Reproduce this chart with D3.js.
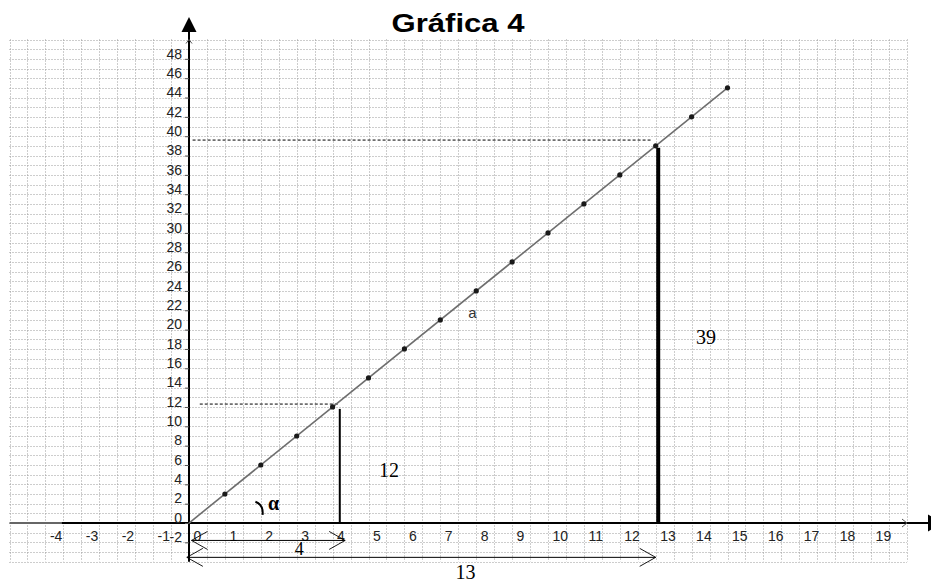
<!DOCTYPE html>
<html>
<head>
<meta charset="utf-8">
<script src="https://cdn.jsdelivr.net/npm/d3@7"></script>
<style>
  body { margin: 0; background: #fff; }
  svg { display: block; font-family: Arial, "Liberation Sans", sans-serif; }
</style>
</head>
<body>
<svg id="chart"></svg>
<script>
// values
const xDomain = [-5, 20];
const yDomain = [-4, 50];
const xTicks = [-4, -3, -2, -1, 0, 1, 2, 3, 4, 5, 6, 7, 8, 9, 10, 11, 12, 13, 14, 15, 16, 17, 18, 19];
const yTicks = [-2, 0, 2, 4, 6, 8, 10, 12, 14, 16, 18, 20, 22, 24, 26, 28, 30, 32, 34, 36, 38, 40, 42, 44, 46, 48];
const pointX = [1, 2, 3, 4, 5, 6, 7, 8, 9, 10, 11, 12, 13, 14, 15];
const pointY = [3, 6, 9, 12, 15, 18, 21, 24, 27, 30, 33, 36, 39, 42, 45];
// dashed guides and drop lines
const guideY = [12.3, 39.6];
const guideX0 = [0.3, 0.1];
const guideX1 = [4.2, 12.9];
const dropX = [4.2, 13.07];
const dropTop = [11.8, 38.8];
// dimension arrows under the axis
const dimY = [-1.8, -3.55];
const dimFrom = [0.07, -0.06];
const dimTo = [4.35, 13.0];
const labels = ["4", "13"];

let width = 931, height = 582;
let svg = d3.select('#chart').attr('width', width).attr('height', height);

let x = d3.scaleLinear().domain(xDomain).range([9.5, 907]);
let y = d3.scaleLinear().domain(yDomain).range([561.7, 39.5]);

// grid
let grid = svg.append('g').attr('class', 'grid')
    .attr('stroke', '#9a9a9a').attr('stroke-dasharray', '1,2').attr('stroke-width', 1);
grid.selectAll('.vg')
    .data(d3.range(xDomain[0], xDomain[1] + 0.25, 0.5))
    .enter().append('line')
    .attr('x1', d => Math.round(x(d)) + 0.5).attr('x2', d => Math.round(x(d)) + 0.5)
    .attr('y1', y(yDomain[1])).attr('y2', y(yDomain[0]));
grid.selectAll('.hg')
    .data(d3.range(yDomain[0], yDomain[1] + 0.5, 1))
    .enter().append('line')
    .attr('y1', d => Math.round(y(d)) + 0.5).attr('y2', d => Math.round(y(d)) + 0.5)
    .attr('x1', x(xDomain[0])).attr('x2', x(xDomain[1]));

// title
svg.append('text')
    .attr('x', 458).attr('y', 32)
    .attr('text-anchor', 'middle')
    .attr('font-weight', 'bold').attr('font-size', 26)
    .attr('textLength', 133).attr('lengthAdjust', 'spacingAndGlyphs')
    .text('Gráfica 4');

// axis lines
svg.append('line')
    .attr('x1', x(xDomain[0])).attr('x2', 930)
    .attr('y1', y(0)).attr('y2', y(0))
    .attr('stroke', '#666').attr('stroke-width', 2);
svg.append('line')
    .attr('x1', x(-3.54)).attr('x2', 930)
    .attr('y1', y(0)).attr('y2', y(0))
    .attr('stroke', '#000').attr('stroke-width', 2);
svg.append('line')
    .attr('x1', x(0)).attr('x2', x(0))
    .attr('y1', 30).attr('y2', y(yDomain[0]))
    .attr('stroke', '#000').attr('stroke-width', 2);

// arrow heads of axes
svg.append('path')
    .attr('d', `M${x(0)},17 L${x(0) - 7.5},32 L${x(0) + 7.5},32 Z`)
    .attr('fill', '#000');
svg.append('path')
    .attr('d', `M${x(0) - 3},${y(yDomain[1]) + 4} L${x(0)},${y(yDomain[1])} L${x(0) + 3},${y(yDomain[1]) + 4}`)
    .attr('fill', 'none').attr('stroke', '#555');
svg.append('path')
    .attr('d', `M928,${y(0) - 8.5} L943,${y(0)} L928,${y(0) + 8.5} Z`)
    .attr('fill', '#000');
svg.append('path')
    .attr('d', `M${x(xDomain[1]) - 5},${y(0) - 4} L${x(xDomain[1])},${y(0)} L${x(xDomain[1]) - 5},${y(0) + 4}`)
    .attr('fill', 'none').attr('stroke', '#555');

// y axis ticks and labels
let yAxis = d3.axisLeft(y).tickValues(yTicks).tickSize(4).tickPadding(3).tickFormat(d => String(d));
let gy = svg.append('g')
    .attr('class', 'y axis')
    .attr('transform', 'translate(' + x(0) + ',0)')
    .call(yAxis);
gy.select('.domain').remove();
gy.selectAll('text').attr('dy', '-0.05em').attr('font-size', 14).attr('fill', '#222').attr('font-family', 'Arial, "Liberation Sans", sans-serif');
gy.selectAll('line').attr('stroke', '#555');

// x axis labels (to the right of ticks)
let xAxis = d3.axisBottom(x).tickValues(xTicks).tickSize(0).tickPadding(0).tickFormat(d => String(d));
let gx = svg.append('g')
    .attr('class', 'x axis')
    .attr('transform', 'translate(0,' + y(0) + ')')
    .call(xAxis);
gx.select('.domain').remove();
gx.selectAll('text')
    .attr('text-anchor', 'start').attr('x', 4).attr('y', 18).attr('dy', 0)
    .attr('font-size', 14).attr('fill', '#222').attr('font-family', 'Arial, "Liberation Sans", sans-serif');

// dashed guides
svg.selectAll('.guide')
    .data(guideY)
    .enter().append('line')
    .attr('class', 'guide')
    .attr('x1', (d, i) => x(guideX0[i])).attr('x2', (d, i) => x(guideX1[i]))
    .attr('y1', d => y(d)).attr('y2', d => y(d))
    .attr('stroke', '#000').attr('stroke-dasharray', '3,2').attr('stroke-width', 1);

// drop lines
svg.selectAll('.drop')
    .data(dropX)
    .enter().append('line')
    .attr('class', 'drop')
    .attr('x1', d => x(d)).attr('x2', d => x(d))
    .attr('y1', (d, i) => y(dropTop[i])).attr('y2', y(0))
    .attr('stroke', '#000')
    .attr('stroke-width', (d, i) => i == 0 ? 2 : 4);

// the line a
svg.append('line')
    .attr('x1', x(0)).attr('y1', y(0))
    .attr('x2', x(pointX[pointX.length - 1])).attr('y2', y(pointY[pointY.length - 1]))
    .attr('stroke', '#6e6e6e').attr('stroke-width', 1.6);
svg.selectAll('.pt')
    .data(pointX)
    .enter().append('circle')
    .attr('class', 'pt')
    .attr('cx', d => x(d)).attr('cy', (d, i) => y(pointY[i]))
    .attr('r', 2.6)
    .attr('fill', '#1a1a1a');

svg.append('text')
    .attr('x', x(7.78)).attr('y', y(21.2))
    .attr('font-size', 15).attr('fill', '#333')
    .text('a');

// angle mark
let ax0 = x(1.85), ay0 = y(2.2), ax1 = x(2.05), ay1 = y(0.85);
svg.append('path')
    .attr('d', `M${ax0},${ay0} Q${ax1 + 1},${ay0 + 3} ${ax1},${ay1}`)
    .attr('fill', 'none').attr('stroke', '#000').attr('stroke-width', 2);
svg.append('text')
    .attr('x', x(2.2)).attr('y', y(1.3))
    .attr('font-family', '"Liberation Serif", "Times New Roman", serif')
    .attr('font-weight', 'bold').attr('font-size', 20)
    .text('α');

// dimension arrows
let dims = svg.selectAll('.dim')
    .data(dimY)
    .enter().append('g')
    .attr('class', 'dim');
dims.append('line')
    .attr('x1', (d, i) => x(dimFrom[i])).attr('x2', (d, i) => x(dimTo[i]))
    .attr('y1', d => y(d)).attr('y2', d => y(d))
    .attr('stroke', '#000');
dims.append('path')
    .attr('d', (d, i) => {
        let a = x(dimFrom[i]), b = x(dimTo[i]), yy = y(d);
        return `M${a + 16},${yy - 9} L${a},${yy} L${a + 16},${yy + 9} M${b - 16},${yy - 9} L${b},${yy} L${b - 16},${yy + 9}`;
    })
    .attr('fill', 'none').attr('stroke', '#000').attr('stroke-width', 0.9);

// measure labels
let serif = '"Liberation Serif", "Times New Roman", serif';
svg.append('text').attr('x', x(3.07)).attr('y', y(-3.35))
    .attr('text-anchor', 'middle').attr('font-family', serif).attr('font-size', 18).text(labels[0]);
svg.append('text').attr('x', x(7.7)).attr('y', y(-5.8))
    .attr('text-anchor', 'middle').attr('font-family', serif).attr('font-size', 20).text(labels[1]);
svg.append('text').attr('x', x(5.57)).attr('y', y(4.8))
    .attr('text-anchor', 'middle').attr('font-family', serif).attr('font-size', 20).text('12');
svg.append('text').attr('x', x(14.4)).attr('y', y(18.5))
    .attr('text-anchor', 'middle').attr('font-family', serif).attr('font-size', 20).text('39');
</script>
</body>
</html>
